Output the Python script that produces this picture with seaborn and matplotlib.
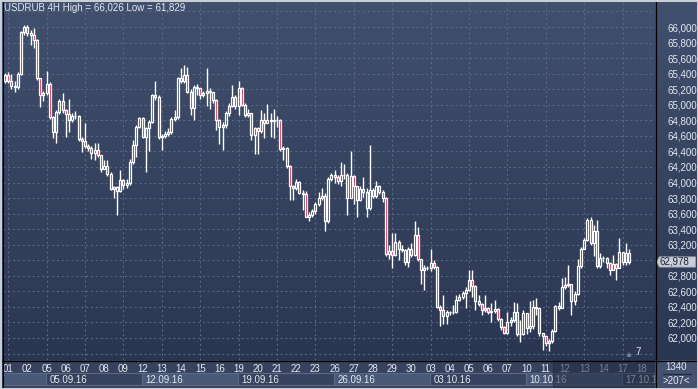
import matplotlib
matplotlib.use("Agg")
import matplotlib.pyplot as plt
from matplotlib.colors import LinearSegmentedColormap
from matplotlib.lines import Line2D
from matplotlib.patches import Rectangle, Polygon
from matplotlib.ticker import FuncFormatter
import numpy as np
import seaborn as sns

# ---- data (USDRUB, 4H candles, 01.09.16 - 17.10.16) ----
symbol = "USDRUB 4H"
days = ["01", "02", "05", "06", "07", "08", "09", "12", "13", "14", "15", "16",
        "19", "20", "21", "22", "23", "26", "27", "28", "29", "30",
        "03", "04", "05", "06", "07", "10", "11", "12", "13", "14", "17", "18"]
week_labels = ["05.09.16", "12.09.16", "19.09.16", "26.09.16", "03.10.16", "10.10.16", "17.10.16"]
week_start_day = [2, 7, 12, 17, 22, 27, 32]

first_open = 65.30
close_ = [
    65.38, 65.31, 65.24, 65.23, 65.40, 65.93, 66.00, 65.92, 65.90, 65.83, 65.34, 65.12,
    65.15, 65.27, 64.84, 64.65, 64.91, 65.05, 64.93, 64.88, 64.80, 64.86, 64.85, 64.56,
    64.53, 64.47, 64.45, 64.38, 64.42, 64.35, 64.18, 64.21, 64.11, 63.92, 63.94, 63.89,
    64.03, 63.97, 63.99, 64.26, 64.48, 64.72, 64.83, 64.59, 64.70, 64.78, 65.12, 65.10,
    64.58, 64.60, 64.63, 64.65, 64.82, 64.84, 65.34, 65.31, 65.38, 65.17, 64.96, 65.23,
    65.22, 65.13, 65.15, 65.18, 65.16, 65.06, 64.80, 64.72, 64.74, 64.90, 64.99, 65.10,
    64.99, 65.21, 65.00, 64.87, 64.90, 64.61, 64.70, 64.66, 64.80, 64.76, 64.80, 64.79,
    64.80, 64.80, 64.43, 64.44, 64.21, 63.95, 63.93, 64.01, 63.87, 63.85, 63.56, 63.58,
    63.64, 63.72, 63.80, 63.83, 63.50, 64.05, 64.10, 64.07, 64.02, 64.10, 64.10, 63.80,
    64.08, 63.95, 63.78, 63.92, 63.88, 63.67, 63.90, 63.83, 63.95, 63.88, 63.80, 63.08,
    63.12, 63.07, 63.24, 63.15, 63.13, 62.98, 63.15, 63.07, 63.32, 63.01, 62.88, 62.90,
    62.90, 62.96, 62.91, 62.40, 62.36, 62.28, 62.33, 62.33, 62.34, 62.49, 62.53, 62.58,
    62.62, 62.74, 62.67, 62.47, 62.44, 62.36, 62.39, 62.33, 62.35, 62.37, 62.25, 62.14,
    62.07, 62.20, 62.23, 62.34, 62.05, 62.05, 62.32, 62.13, 62.15, 62.40, 62.38, 62.06,
    62.02, 61.93, 61.96, 62.09, 62.41, 62.39, 62.66, 62.68, 62.70, 62.47, 62.56, 62.92,
    63.15, 63.26, 63.52, 63.22, 63.37, 62.92, 63.03, 63.03, 62.96, 62.87, 62.95, 62.90,
    63.11, 62.98, 63.09, 62.978,
]
high_ = [
    65.41, 65.42, 65.40, 65.30, 65.42, 65.95, 66.026, 66.02, 65.96, 65.99, 65.85, 65.35,
    65.18, 65.43, 65.29, 64.86, 64.93, 65.07, 65.15, 64.95, 65.08, 64.90, 64.92, 64.87,
    64.58, 64.77, 64.50, 64.47, 64.51, 64.51, 64.36, 64.29, 64.29, 64.13, 63.96, 63.95,
    64.16, 64.05, 64.05, 64.30, 64.55, 64.74, 64.84, 64.84, 64.72, 64.80, 65.14, 65.30,
    65.12, 64.62, 64.66, 64.70, 64.84, 64.93, 65.36, 65.47, 65.51, 65.48, 65.20, 65.25,
    65.27, 65.17, 65.18, 65.47, 65.21, 65.17, 65.08, 64.82, 64.78, 64.92, 65.02, 65.25,
    65.12, 65.30, 65.23, 65.02, 64.94, 64.90, 64.72, 64.72, 64.93, 64.89, 65.01, 64.89,
    64.95, 64.85, 64.82, 64.47, 64.46, 64.22, 63.97, 64.05, 64.02, 63.90, 63.89, 63.62,
    63.66, 63.75, 63.88, 63.93, 63.86, 64.07, 64.12, 64.16, 64.10, 64.27, 64.24, 64.12,
    64.40, 64.10, 63.96, 63.95, 64.07, 63.93, 64.48, 63.93, 64.02, 63.97, 63.90, 63.82,
    63.20, 63.35, 63.35, 63.26, 63.20, 63.14, 63.17, 63.22, 63.50, 63.43, 63.02, 62.94,
    62.92, 63.14, 63.00, 62.93, 62.42, 62.55, 62.36, 62.35, 62.42, 62.55, 62.57, 62.60,
    62.65, 62.87, 62.87, 62.68, 62.55, 62.45, 62.55, 62.40, 62.45, 62.49, 62.38, 62.26,
    62.16, 62.34, 62.27, 62.46, 62.45, 62.23, 62.36, 62.32, 62.47, 62.49, 62.52, 62.38,
    62.06, 62.02, 61.99, 62.12, 62.43, 62.46, 62.77, 62.79, 62.94, 62.70, 62.60, 63.01,
    63.17, 63.28, 63.54, 63.55, 63.45, 63.52, 63.09, 63.06, 63.04, 62.98, 63.07, 62.96,
    63.28, 63.11, 63.22, 63.15,
]
low_ = [
    65.28, 65.28, 65.20, 65.16, 65.20, 65.38, 65.90, 65.88, 65.77, 65.73, 65.32, 64.97,
    65.05, 65.12, 64.82, 64.57, 64.51, 64.88, 64.90, 64.58, 64.65, 64.78, 64.82, 64.54,
    64.39, 64.45, 64.40, 64.30, 64.29, 64.33, 64.13, 64.17, 64.09, 63.90, 63.80, 63.58,
    63.88, 63.92, 63.93, 63.97, 64.24, 64.33, 64.70, 64.57, 64.13, 64.40, 64.76, 65.06,
    64.56, 64.42, 64.57, 64.60, 64.62, 64.79, 64.82, 65.28, 65.28, 65.15, 64.87, 64.80,
    65.12, 65.08, 65.10, 64.98, 64.95, 65.02, 64.68, 64.50, 64.42, 64.70, 64.86, 64.97,
    64.95, 64.87, 64.98, 64.84, 64.84, 64.55, 64.37, 64.37, 64.64, 64.57, 64.76, 64.59,
    64.57, 64.72, 64.41, 64.29, 64.19, 63.78, 63.78, 63.90, 63.85, 63.65, 63.55, 63.50,
    63.55, 63.60, 63.70, 63.78, 63.37, 63.48, 64.02, 64.00, 63.98, 63.95, 64.05, 63.58,
    63.80, 63.72, 63.56, 63.76, 63.82, 63.55, 63.65, 63.80, 63.80, 63.85, 63.75, 63.05,
    63.02, 62.90, 63.05, 63.00, 63.10, 62.94, 62.91, 63.04, 63.05, 62.99, 62.70, 62.62,
    62.87, 62.86, 62.89, 62.38, 62.15, 62.18, 62.18, 62.30, 62.31, 62.32, 62.47, 62.50,
    62.38, 62.60, 62.53, 62.36, 62.41, 62.30, 62.34, 62.31, 62.21, 62.32, 62.22, 62.10,
    62.05, 62.05, 62.15, 62.20, 62.03, 61.95, 62.04, 62.05, 62.08, 62.12, 62.30, 62.03,
    61.85, 61.90, 61.829, 61.93, 62.08, 62.36, 62.38, 62.63, 62.66, 62.30, 62.42, 62.55,
    62.90, 63.14, 63.25, 63.20, 63.05, 62.90, 62.90, 62.98, 62.90, 62.81, 62.87, 62.75,
    62.90, 62.94, 62.94, 62.95,
]
bars_total = "1340"
bars_info = ">207<"
marker_count = "7"

# ---- look ----
W, H = 698, 389
BG_TOP, BG_BOT = "#41506e", "#29344f"
TXT = "#e3e8f1"
RED = "#ee1438"

sns.set_theme(style="dark")
plt.rcParams["font.family"] = ["Liberation Sans", "DejaVu Sans"]


def box(x0, y0, x1, y1):
    return [x0 / W, 1 - y1 / H, (x1 - x0) / W, (y1 - y0) / H]


def fmt(v):
    return f"{v:.3f}".replace(".", ",")


fig = plt.figure(figsize=(W / 100, H / 100), dpi=100)

bg = fig.add_axes([0, 0, 1, 1], zorder=-10)
bg.imshow(np.linspace(0, 1, 256)[:, None], aspect="auto", extent=[0, 1, 0, 1],
          cmap=LinearSegmentedColormap.from_list("bg", [BG_TOP, BG_BOT]))
bg.axis("off")

o = np.r_[first_open, close_[:-1]]
c = np.array(close_)
hi = np.maximum(np.array(high_), np.maximum(o, c))
lo = np.minimum(np.array(low_), np.minimum(o, c))
idx = np.arange(len(c))
up = c >= o
b_lo, b_hi = np.minimum(o, c), np.maximum(o, c)
last = close_[-1]

XLIM = (-0.625, -0.625 + 652 / 3.2)
YLIM = (61.717, 66.322)

ax = fig.add_axes(box(3, 2, 655, 360))
ax.set_facecolor("none")
ax.set_xlim(*XLIM)
ax.set_ylim(*YLIM)
ax.set_yticks(np.arange(61.8, 66.21, 0.2))
ax.set_xticks(np.arange(1, len(c), 12))
ax.grid(True, color="#5e6b89", linestyle=(0, (2, 3)), linewidth=0.7)
ax.yaxis.tick_right()
# scale labels from 62 to 66; the one hidden behind the last-price marker is left out
ax.yaxis.set_major_formatter(FuncFormatter(
    lambda v, _: fmt(v) if 61.99 < v < 66.01 and abs(v - last) > 0.1 else ""))
ax.tick_params(left=False, right=False, bottom=False, labelbottom=False,
               labelright=True, labelcolor=TXT, labelsize=7, pad=3)
for s in ax.spines.values():
    s.set_visible(False)

ax.vlines(idx, lo, b_lo, color="white", linewidth=1.0, zorder=3)
ax.vlines(idx, b_hi, hi, color="white", linewidth=1.0, zorder=3)
ax.bar(idx[up], (b_hi - b_lo)[up], bottom=b_lo[up], width=0.68,
       facecolor="none", edgecolor="white", linewidth=0.9, zorder=4)
ax.bar(idx[~up], (b_hi - b_lo)[~up], bottom=b_lo[~up], width=0.68,
       facecolor=RED, edgecolor="white", linewidth=0.9, zorder=4)

fig.text(4 / W, 1 - 8 / H, f"{symbol} High = {fmt(max(high_))} Low = {fmt(min(low_))}",
         color=TXT, fontsize=7, ha="left", va="center")

# time axis
bax = fig.add_axes(box(3, 360, 655, 389))
bax.set_facecolor("#37425e")
bax.set_xlim(*XLIM)
bax.set_ylim(29, 0)
bax.axis("off")
bax.add_patch(Rectangle((XLIM[0], 0), XLIM[1] - XLIM[0], 29, color="#37425e", zorder=0))
edges = [XLIM[0]] + [6 * d + 0.8 for d in week_start_day] + [XLIM[1] + 5]
for k in range(len(edges) - 1):
    bax.add_patch(Rectangle((edges[k], 13), edges[k + 1] - edges[k], 12,
                            facecolor="#4b5978" if k % 2 == 0 else "#37425e",
                            edgecolor="#5c6a88", linewidth=0.8, zorder=1))
for d, lab in enumerate(days):
    bax.text(6 * d + 1, 8.5, lab, color=TXT, fontsize=7, ha="center", va="center", zorder=2)
for d, lab in zip(week_start_day, week_labels):
    bax.text(6 * d + 2.0, 20, lab, color=TXT, fontsize=7, ha="left", va="center", zorder=2)
bax.add_patch(Rectangle((171.3, 0), XLIM[1] - 171.3 + 5, 29, color="#222b42",
                        alpha=0.55, zorder=3))

# price marker on the right scale
rax = fig.add_axes(box(655, 2, 698, 360), zorder=5)
rax.set_xlim(0, 43)
rax.set_ylim(*YLIM)
rax.axis("off")
h = 0.066
rax.add_patch(Polygon([(1.5, last), (4.5, last + h), (40.5, last + h), (40.5, last - h),
                       (4.5, last - h)],
                      closed=True, facecolor="#c9ced8", edgecolor="#9aa3b4", linewidth=0.6))
rax.text(5, last, fmt(last), color="#1b2233", fontsize=7, ha="left", va="center")

# corner box
cax = fig.add_axes(box(655, 360, 698, 389), zorder=6)
cax.set_facecolor("#45526f")
cax.set_xlim(0, 43)
cax.set_ylim(29, 0)
cax.set_xticks([])
cax.set_yticks([])
for s in cax.spines.values():
    s.set_visible(False)
cax.text(21.5, 7, bars_total, color=TXT, fontsize=7, ha="center", va="center")
cax.plot([8, 36], [13.5, 13.5], color="#1e2538", linewidth=0.8)
cax.text(21.5, 20.5, bars_info, color=TXT, fontsize=7, ha="center", va="center")

fig.text(638 / W, 1 - 352 / H, marker_count, color=TXT, fontsize=7, ha="center", va="center")
fig.text(629 / W, 1 - 355 / H, "\u25b2", color="#7f8ca6", fontsize=4,
         ha="center", va="center", family="DejaVu Sans")

# frame lines
fig.add_artist(Line2D([655.5 / W] * 2, [0, 1], color="black", linewidth=0.9, zorder=7))
fig.add_artist(Line2D([0, 1], [1 - 360.5 / H] * 2, color="black", linewidth=0.9, zorder=7))
fig.add_artist(Line2D([2.5 / W] * 2, [0, 1], color="black", linewidth=0.8, zorder=7))
fig.add_artist(Rectangle((0, 0), 1, 1, transform=fig.transFigure, fill=False,
                         edgecolor="#c9cdd4", linewidth=2.2, zorder=8))

fig.savefig("out.png", dpi=100)
